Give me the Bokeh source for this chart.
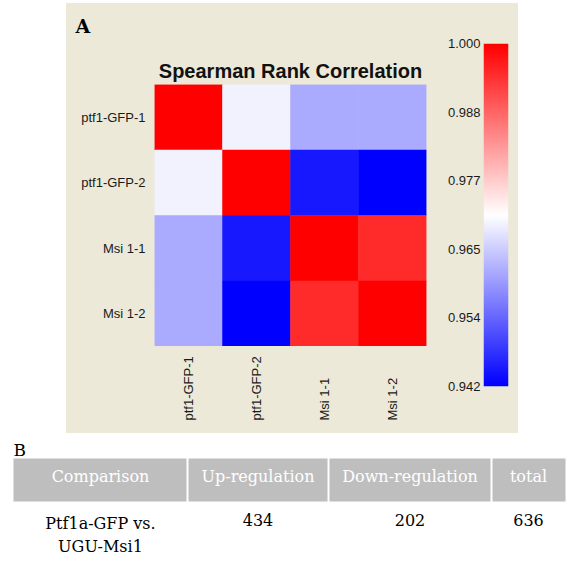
import numpy as np
from bokeh.plotting import figure
from bokeh.models import (ColumnDataSource, LinearColorMapper, FixedTicker,
                          NumeralTickFormatter, Range1d, Spacer)
from bokeh.layouts import column, row
from bokeh.embed import file_html
from bokeh.resources import INLINE
from bokeh.core.properties import value

# ---------------- data ----------------
samples = ["ptf1-GFP-1", "ptf1-GFP-2", "Msi 1-1", "Msi 1-2"]
corr_ptf1_gfp_1 = [1.000, 0.9695, 0.9613, 0.9613]
corr_ptf1_gfp_2 = [0.9695, 1.000, 0.9449, 0.9420]
corr_msi_1_1 = [0.9613, 0.9449, 1.000, 0.9952]
corr_msi_1_2 = [0.9613, 0.9420, 0.9952, 1.000]
cbar_low = 0.942
cbar_high = 1.000
cbar_ticks = [0.942, 0.9536, 0.9652, 0.9768, 0.9884, 1.000]
heatmap_title = "Spearman Rank Correlation"
panel_a_label = "A"
panel_b_label = "B"

table_header = ["Comparison", "Up-regulation", "Down-regulation", "total"]
comparison = "Ptf1a-GFP vs.\nUGU-Msi1"
up_regulation = 434
down_regulation = 202
total = 636

# ---------------- styles / layout ----------------
BEIGE = "#ECE9D8"
SANS = "Liberation Sans"
SERIF = "DejaVu Serif"
TXT = "#1a1a1a"
HEADER_FILL = "#BEBEBE"
PANEL_LEFT, PANEL_TOP, PANEL_BOTTOM = 66, 3, 433
HM_LEFT, HM_RIGHT, HM_TOP, HM_BOTTOM = 154, 426, 84, 346
LEFT_W = 374          # heatmap column width (66 .. 440)
CB_W = 78             # colour bar column width (440 .. 518)

palette = []
for i in range(256):
    t = i / 255.0
    if t < 0.5:
        s = t / 0.5
        r, g, b = 255 * s, 255 * s, 255
    else:
        s = (t - 0.5) / 0.5
        r, g, b = 255, 255 * (1 - s), 255 * (1 - s)
    palette.append("#%02x%02x%02x" % (int(round(r)), int(round(g)), int(round(b))))
mapper = LinearColorMapper(palette=palette, low=cbar_low, high=cbar_high)

common = dict(output_backend="svg", toolbar_location=None,
              background_fill_color=BEIGE, border_fill_color=BEIGE, outline_line_color=None)

# ---------------- top strip: panel letter + title ----------------
ptop = figure(width=LEFT_W, height=HM_TOP - PANEL_TOP,
              x_range=Range1d(PANEL_LEFT, PANEL_LEFT + LEFT_W), y_range=Range1d(HM_TOP, PANEL_TOP),
              x_axis_location=None, y_axis_location=None,
              min_border=0, min_border_left=0, min_border_right=0, min_border_top=0, min_border_bottom=0,
              **common)
ptop.grid.visible = False
ptop.text(x=[75], y=[25.5], text=[panel_a_label], text_align="left", text_baseline="middle",
          text_font=value(SERIF), text_font_style="bold", text_font_size="19px", text_color="#000000")
ptop.text(x=[(HM_LEFT + HM_RIGHT) / 2], y=[70], text=[heatmap_title], text_align="center",
          text_baseline="middle", text_font=value(SANS), text_font_style="bold",
          text_font_size="20px", text_color="#111111")

# ---------------- heatmap ----------------
matrix = [corr_ptf1_gfp_1, corr_ptf1_gfp_2, corr_msi_1_1, corr_msi_1_2]
xs, ys, vs = [], [], []
for i, rname in enumerate(samples):
    for j, cname in enumerate(samples):
        xs.append(cname)
        ys.append(rname)
        vs.append(matrix[i][j])
src = ColumnDataSource(dict(x=xs, y=ys, v=vs))

p1 = figure(width=LEFT_W, height=HM_BOTTOM - HM_TOP, x_range=samples, y_range=list(reversed(samples)),
            x_axis_location=None, y_axis_location="left",
            min_border_left=HM_LEFT - PANEL_LEFT, min_border_right=PANEL_LEFT + LEFT_W - HM_RIGHT,
            min_border_top=0, min_border_bottom=0, **common)
p1.rect(x="x", y="y", width=1, height=1, source=src,
        fill_color={"field": "v", "transform": mapper},
        line_color={"field": "v", "transform": mapper}, line_width=0.5)
p1.grid.visible = False
yax = p1.yaxis[0]
yax.axis_line_color = None
yax.major_tick_line_color = None
yax.minor_tick_line_color = None
yax.major_tick_out = 0
yax.major_tick_in = 0
yax.major_label_standoff = 9
yax.major_label_text_font = SANS
yax.major_label_text_font_size = "13px"
yax.major_label_text_color = TXT

# ---------------- bottom strip: column names, written upward ----------------
pbot = figure(width=LEFT_W, height=PANEL_BOTTOM - HM_BOTTOM, x_range=p1.x_range,
              y_range=Range1d(PANEL_BOTTOM, HM_BOTTOM),
              x_axis_location=None, y_axis_location=None,
              min_border_left=HM_LEFT - PANEL_LEFT, min_border_right=PANEL_LEFT + LEFT_W - HM_RIGHT,
              min_border_top=0, min_border_bottom=0, **common)
pbot.grid.visible = False
pbot.text(x=samples, y=[420] * len(samples), text=samples, angle=np.pi / 2,
          text_align="left", text_baseline="middle",
          text_font=value(SANS), text_font_size="13px", text_color=TXT)

# ---------------- colour bar ----------------
pcb = figure(width=CB_W, height=PANEL_BOTTOM - PANEL_TOP, x_range=Range1d(0, 1),
             y_range=Range1d(cbar_low, cbar_high),
             x_axis_location=None, y_axis_location="left",
             min_border_left=43, min_border_right=10, min_border_top=40, min_border_bottom=47,
             **common)
grad = np.linspace(cbar_low, cbar_high, 343).reshape(-1, 1)
pcb.image(image=[grad], x=0, y=cbar_low, dw=1, dh=cbar_high - cbar_low, color_mapper=mapper)
pcb.grid.visible = False
cax = pcb.yaxis[0]
cax.ticker = FixedTicker(ticks=cbar_ticks)
cax.formatter = NumeralTickFormatter(format="0.000")
cax.axis_line_color = None
cax.major_tick_line_color = None
cax.minor_tick_line_color = None
cax.major_tick_out = 0
cax.major_tick_in = 0
cax.major_label_standoff = 3
cax.major_label_text_font = SANS
cax.major_label_text_font_size = "13px"
cax.major_label_text_color = TXT

# ---------------- table ----------------
col_edges = [13, 187, 328, 491, 565]
gap = 1
lefts, rights, centers = [], [], []
for k in range(len(table_header)):
    l = col_edges[k] + (gap if k > 0 else 0)
    r = col_edges[k + 1] - (gap if k < len(table_header) - 1 else 0)
    lefts.append(l)
    rights.append(r)
    centers.append((col_edges[k] + col_edges[k + 1]) / 2)

p2 = figure(width=570, height=126, x_range=Range1d(0, 570), y_range=Range1d(559, 433),
            output_backend="svg", toolbar_location=None,
            x_axis_location=None, y_axis_location=None,
            min_border=0, min_border_left=0, min_border_right=0, min_border_top=0, min_border_bottom=0,
            background_fill_color="white", border_fill_color="white", outline_line_color=None)
p2.grid.visible = False
p2.quad(left=lefts, right=rights, top=[458] * 4, bottom=[501] * 4,
        fill_color=HEADER_FILL, line_color=None)
p2.text(x=centers, y=[476] * 4, text=table_header, text_align="center", text_baseline="middle",
        text_color="white", text_font=value(SERIF), text_font_size="16px")
row_cells = [comparison, str(up_regulation), str(down_regulation), str(total)]
p2.text(x=centers, y=[513] * 4, text=row_cells, text_align="center", text_baseline="top",
        text_line_height=1.25, text_color="#000000", text_font=value(SERIF), text_font_size="16px")
p2.text(x=[13], y=[449], text=[panel_b_label], text_align="left", text_baseline="middle",
        text_color="#000000", text_font=value(SERIF), text_font_size="17px")

left_block = column(ptop, column(p1, pbot))
panel_row = row(left_block, pcb, styles={"background-color": BEIGE})
layout = column(Spacer(width=570, height=PANEL_TOP),
                row(Spacer(width=PANEL_LEFT, height=PANEL_BOTTOM - PANEL_TOP), panel_row),
                p2)

open("out.html", "w").write(file_html(layout, INLINE))
